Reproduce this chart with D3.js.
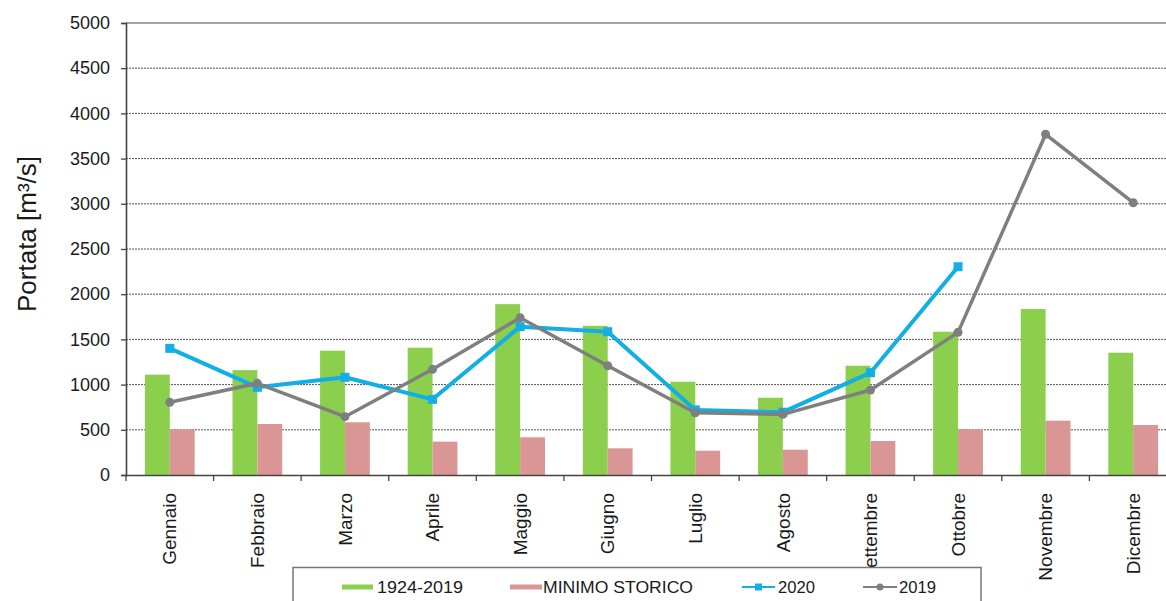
<!DOCTYPE html>
<html><head><meta charset="utf-8">
<script src="https://cdn.jsdelivr.net/npm/d3@7"></script>
<style>body{margin:0;background:#fff;} svg{display:block;font-family:"Liberation Sans",Arial,sans-serif;}</style>
</head><body>
<svg id="c" width="1166" height="601"></svg>
<script>
const months = ["Gennaio","Febbraio","Marzo","Aprile","Maggio","Giugno","Luglio","Agosto","Settembre","Ottobre","Novembre","Dicembre"];
const media = [1110,1160,1375,1408,1890,1650,1032,855,1209,1585,1836,1353];
const minimo = [505,564,583,369,417,295,269,280,376,505,601,553];
const y2020 = [1401,970,1081,837,1641,1585,720,695,1132,2304,null,null];
const y2019 = [804,1014,645,1169,1740,1209,689,671,940,1578,3769,3012];
const yTicks = [0,500,1000,1500,2000,2500,3000,3500,4000,4500,5000];
const legendLabels = ["1924-2019","MINIMO STORICO","2020","2019"];
const colors = {green:"#8ccf4d", pink:"#d99694", blue:"#12aee6", gray:"#7f7f7f"};

const svg = d3.select("#c");
const pLeft = 126, pRight = 1177, pTop = 23, pBottom = 475;
const x = d3.scaleBand().domain(months).range([pLeft,pRight]).paddingInner(0).paddingOuter(0);
const y = d3.scaleLinear().domain([0,5000]).range([pBottom,pTop]);
const xs = d3.scaleBand().domain(["a","b"]).range([0,x.bandwidth()]).paddingInner(0).paddingOuter(0.76);

// gridlines
svg.append("g").selectAll("line").data(yTicks.filter(d=>d>0 && d<5000)).join("line")
  .attr("x1",pLeft).attr("x2",1166).attr("y1",d=>y(d)).attr("y2",d=>y(d))
  .attr("stroke","#555").attr("stroke-width",1).attr("stroke-dasharray","2,1");
svg.append("line").attr("x1",pLeft).attr("x2",1166).attr("y1",y(5000)).attr("y2",y(5000))
  .attr("stroke","#888").attr("stroke-width",1.5);

// bars
const bars = svg.append("g");
bars.selectAll("rect.g").data(media).join("rect").attr("class","g")
  .attr("x",(d,i)=>x(months[i])+xs("a")).attr("width",xs.bandwidth())
  .attr("y",d=>y(d)).attr("height",d=>pBottom-y(d)).attr("fill",colors.green);
bars.selectAll("rect.p").data(minimo).join("rect").attr("class","p")
  .attr("x",(d,i)=>x(months[i])+xs("b")).attr("width",xs.bandwidth())
  .attr("y",d=>y(d)).attr("height",d=>pBottom-y(d)).attr("fill",colors.pink);

// axes
const yAxis = svg.append("g").attr("transform",`translate(${pLeft},0)`)
  .call(d3.axisLeft(y).tickValues(yTicks).tickSize(5).tickPadding(11).tickFormat(d3.format("d")));
yAxis.select(".domain").attr("stroke","#444").attr("stroke-width",1.6);
yAxis.selectAll(".tick line").attr("stroke","#444").attr("stroke-width",1.3);
yAxis.selectAll("text").attr("font-size",18).attr("fill","#1a1a1a").attr("font-family","Liberation Sans, Arial, sans-serif");

const xAxis = svg.append("g").attr("transform",`translate(0,${pBottom})`)
  .call(d3.axisBottom(x).tickSize(0).tickFormat(""));
xAxis.select(".domain").attr("stroke","#444").attr("stroke-width",1.6);
const tickPos = d3.range(months.length+1).map(i=>pLeft+i*x.step());
svg.append("g").selectAll("line").data(tickPos).join("line")
  .attr("x1",d=>d).attr("x2",d=>d).attr("y1",pBottom).attr("y2",pBottom+6)
  .attr("stroke","#444").attr("stroke-width",1.3);
svg.append("g").selectAll("text").data(months).join("text")
  .attr("transform",d=>`translate(${x(d)+x.bandwidth()/2},493) rotate(-90)`)
  .attr("text-anchor","end").attr("dy","0.35em")
  .attr("font-size",19).attr("fill","#1a1a1a").text(d=>d);

// y label
svg.append("text").attr("transform","translate(27,234) rotate(-90)")
  .attr("text-anchor","middle").attr("dy","0.35em").attr("font-size",26).attr("fill","#1a1a1a")
  .text("Portata [m³/s]");

// lines
const cx = i=>x(months[i])+x.bandwidth()/2;
const line = d3.line().defined(d=>d.v!=null).x(d=>cx(d.i)).y(d=>y(d.v));
const d20 = y2020.map((v,i)=>({v,i}));
const d19 = y2019.map((v,i)=>({v,i}));
svg.append("path").datum(d20).attr("d",line).attr("fill","none").attr("stroke",colors.blue).attr("stroke-width",4).attr("stroke-linejoin","round");
svg.append("g").selectAll("rect").data(d20.filter(d=>d.v!=null)).join("rect")
  .attr("x",d=>cx(d.i)-4.5).attr("y",d=>y(d.v)-4.5).attr("width",9).attr("height",9).attr("fill",colors.blue);
svg.append("path").datum(d19).attr("d",line).attr("fill","none").attr("stroke",colors.gray).attr("stroke-width",3.5).attr("stroke-linejoin","round");
svg.append("g").selectAll("circle").data(d19).join("circle")
  .attr("cx",d=>cx(d.i)).attr("cy",d=>y(d.v)).attr("r",4.5).attr("fill",colors.gray);

// legend
const lg = svg.append("g");
lg.append("rect").attr("x",293).attr("y",567.5).attr("width",688).attr("height",60)
  .attr("fill","#fff").attr("stroke","#777").attr("stroke-width",1.5);
const ly = 587;
lg.append("rect").attr("x",342).attr("y",ly-2.5).attr("width",31).attr("height",5).attr("fill",colors.green);
lg.append("rect").attr("x",510).attr("y",ly-2.5).attr("width",32).attr("height",5).attr("fill",colors.pink);
lg.append("line").attr("x1",742).attr("x2",775).attr("y1",ly).attr("y2",ly).attr("stroke",colors.blue).attr("stroke-width",2);
lg.append("rect").attr("x",755).attr("y",ly-3.5).attr("width",7).attr("height",7).attr("fill",colors.blue);
lg.append("line").attr("x1",863).attr("x2",897).attr("y1",ly).attr("y2",ly).attr("stroke",colors.gray).attr("stroke-width",2);
lg.append("circle").attr("cx",880).attr("cy",ly).attr("r",3.5).attr("fill",colors.gray);
const lx = [377,543,778,899];
const lw = [86,150,37,37];
lg.selectAll("text").data(legendLabels).join("text")
  .attr("x",(d,i)=>lx[i]).attr("y",ly).attr("dy","0.36em")
  .attr("font-size",16).attr("fill","#1a1a1a")
  .attr("textLength",(d,i)=>lw[i]).attr("lengthAdjust","spacingAndGlyphs")
  .text(d=>d);
</script>
</body></html>
